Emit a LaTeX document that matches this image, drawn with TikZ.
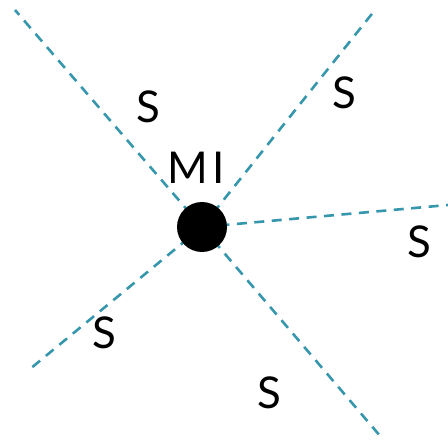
\documentclass[tikz,border=0pt]{standalone}
\usepackage{fontspec}
\setmainfont{Lato}
\usetikzlibrary{backgrounds}
\definecolor{rayteal}{RGB}{54,150,172}
\begin{document}
\begin{tikzpicture}[x=1bp,y=-1bp,
  ray/.style={draw=rayteal,line width=2.6bp,dash pattern=on 10bp off 7.5bp},
  lbl/.style={font=\fontsize{44}{44}\selectfont,inner sep=0pt,text=black},
  dot/.style={circle,fill=black,minimum size=50bp,inner sep=0pt}]
\useasboundingbox (0,0) rectangle (448,445);
\node[dot] (c) at (202,227) {};
\coordinate (ul) at (15,10);
\coordinate (ur) at (375,10);
\coordinate (r) at (448,205);
\coordinate (ll) at (30,369);
\coordinate (lr) at (381,437);
\begin{scope}[on background layer]
\draw[ray] (c.center) -- (ul);
\draw[ray] (c.center) -- (ur);
\draw[ray] (c.center) -- (r);
\draw[ray] (c.center) -- (ll);
\draw[ray] (c.center) -- (lr);
\end{scope}
\node[lbl] (s1) at (148.5,106.5) {S};
\node[lbl] (s2) at (344,93) {S};
\node[lbl] (s3) at (419,242) {S};
\node[lbl] (s4) at (104,333) {S};
\node[lbl] (s5) at (269,393) {S};
\node[lbl] (mi) at (196,167.5) {M\hspace{4bp}I};
\end{tikzpicture}
\end{document}
